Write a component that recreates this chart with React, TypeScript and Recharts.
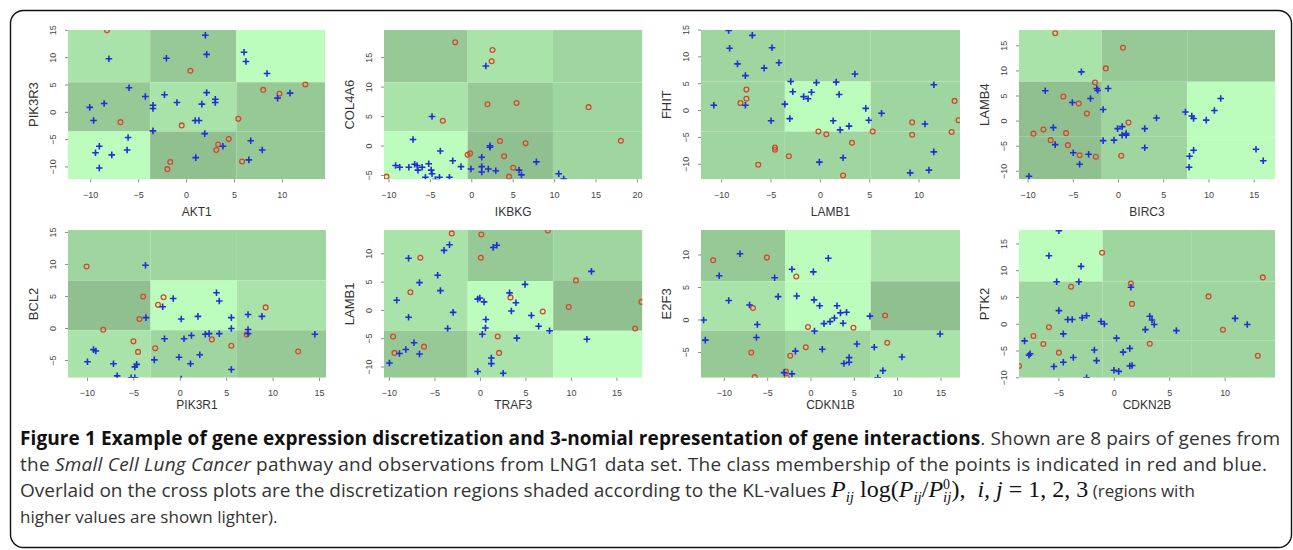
import React from 'react';
import { ScatterChart, Scatter, XAxis, YAxis, ReferenceArea } from 'recharts';

type Pt = [number, number];

// region shades, 0 = lightest (highest KL value)
const SHADES = ['#bcfcbc', '#a9e3a9', '#9fd59f', '#97c997', '#90c090'];

// ---- panel 1: AKT1 vs PIK3R3
const p1XTicks = [-10, -5, 0, 5, 10];
const p1YTicks = [-10, -5, 0, 5, 10, 15];
const p1XCuts = [-3.8, 5.2];
const p1YCuts = [-3.5, 5.5];
const p1Shade = [[1, 3, 0], [3, 1, 3], [0, 4, 3]];
const p1Blue: Pt[] = [[1.96, 14.1], [-8.1, 9.8], [-2.1, 9.9], [2.1, 10.6], [6.0, 11.0], [6.2, 9.3], [8.4, 7.1], [-6.0, 4.5], [-4.3, 2.9], [-2.3, 3.2], [2.1, 3.6], [3.0, 2.4], [3.0, 1.8], [-1.0, 1.8], [-3.5, 1.3], [-3.5, 0.7], [1.6, 1.5], [-8.6, 1.6], [-10.1, 0.9], [-9.7, -1.5], [0.9, -1.5], [1.3, -1.5], [-3.5, -3.4], [1.9, -3.9], [10.8, 3.5], [9.5, 2.6], [-6.1, -4.6], [-9.1, -6.2], [-6.2, -6.9], [-9.5, -7.4], [-7.8, -7.8], [-9.1, -10.2], [0.96, -8.3], [3.8, -6.2], [6.7, -5.2], [7.9, -6.9], [6.5, -8.7]];
const p1Red: Pt[] = [[-8.3, 15.0], [0.4, 7.6], [8.0, 4.1], [9.7, 3.4], [12.4, 5.1], [-6.9, -1.8], [-0.5, -2.4], [5.4, -1.2], [4.4, -4.9], [3.3, -5.9], [3.1, -6.9], [-1.7, -9.1], [-2.0, -10.4], [5.8, -9.0]];

// ---- panel 2: IKBKG vs COL4A6
const p2XTicks = [-10, -5, 0, 5, 10, 15, 20];
const p2YTicks = [-5, 0, 5, 10, 15];
const p2XCuts = [-0.5, 9.8];
const p2YCuts = [2.5, 10.8];
const p2Shade = [[3, 1, 2], [1, 3, 2], [0, 4, 2]];
const p2Blue: Pt[] = [[1.7, 13.6], [-4.8, 5.0], [-7.1, 1.1], [-3.8, -0.85], [2.2, 0.05], [2.2, -0.2], [-2.3, -2.5], [1.2, -1.9], [7.8, -2.7], [-9.2, -3.3], [-8.7, -3.6], [-7.6, -3.6], [-6.9, -3.1], [-6.6, -3.3], [-6.5, -4.1], [-6.0, -3.6], [-5.2, -3.0], [-4.9, -4.1], [-4.8, -4.7], [-5.6, -5.3], [-3.9, -5.3], [-2.7, -5.3], [-1.3, -3.5], [-0.1, -3.9], [1.2, -3.5], [1.2, -4.4], [2.0, -3.9], [2.9, -4.2], [5.7, -4.1], [6.0, -4.9], [10.5, -4.7], [11.1, -5.6], [-4.4, -5.7]];
const p2Red: Pt[] = [[-2.0, 17.6], [2.5, 16.3], [2.4, 14.4], [1.9, 7.1], [5.4, 7.3], [14.1, 6.6], [-3.5, 4.3], [3.4, 0.85], [6.5, 0.45], [18.0, 0.9], [-0.5, -1.5], [-0.2, -1.25], [3.9, -1.75], [5.0, -3.7], [4.5, -5.2], [-10.3, -5.2]];

// ---- panel 3: LAMB1 vs FHIT
const p3XTicks = [-10, -5, 0, 5, 10];
const p3YTicks = [-10, -5, 0, 5, 10, 15];
const p3XCuts = [-3.6, 5.1];
const p3YCuts = [-3.9, 5.4];
const p3Shade = [[2, 2, 2], [2, 0, 2], [2, 2, 2]];
const p3Blue: Pt[] = [[-9.3, 14.9], [-6.9, 14.0], [-9.2, 11.6], [-4.9, 11.7], [-8.4, 8.7], [-4.2, 8.9], [-5.7, 7.9], [-7.6, 6.5], [3.5, 6.8], [-3.0, 5.4], [-0.4, 5.2], [1.6, 5.3], [-2.8, 3.5], [-0.9, 3.4], [-1.7, 2.6], [-1.25, 2.2], [1.9, 3.0], [-3.6, 1.2], [-7.6, 1.0], [-10.8, 1.0], [4.6, 0.4], [6.2, -0.5], [-3.1, -1.5], [-5.0, -1.9], [1.3, -1.9], [4.9, -1.8], [2.9, -2.9], [2.0, -3.6], [11.5, 4.8], [10.6, -2.5], [11.5, -7.7], [-0.1, -9.6], [2.3, -8.8], [11.0, -11.1], [9.1, -11.6]];
const p3Red: Pt[] = [[-7.5, 3.9], [-7.5, 2.2], [-8.1, 1.4], [-0.2, -3.9], [0.6, -4.4], [5.3, -3.9], [3.2, -6.0], [-4.6, -6.9], [-4.6, -7.3], [-3.2, -8.5], [-6.3, -10.1], [2.3, -12.1], [9.3, -2.2], [9.3, -4.5], [13.6, 1.8], [14.0, -1.8], [13.3, -4.0]];

// ---- panel 4: BIRC3 vs LAMB4
const p4XTicks = [-10, -5, 0, 5, 10, 15];
const p4YTicks = [-10, -5, 0, 5, 10, 15];
const p4XCuts = [-1.85, 7.6];
const p4YCuts = [-3.0, 7.85];
const p4Shade = [[1, 3, 3], [4, 2, 0], [4, 2, 0]];
const p4Blue: Pt[] = [[-4.1, 9.8], [-8.1, 6.05], [-2.4, 6.5], [-2.3, 6.1], [-1.15, 6.5], [-5.1, 3.7], [-3.1, 4.5], [-1.7, 2.3], [11.3, 4.5], [10.6, 2.1], [7.4, 1.8], [8.1, 1.0], [8.3, 0.5], [9.7, 0.2], [4.2, 0.6], [-7.2, -1.3], [-0.1, -1.5], [0.4, -1.1], [2.9, -1.5], [0.4, -2.8], [0.85, -2.8], [0.85, -2.5], [-7.0, -4.7], [-1.7, -3.9], [-0.5, -3.8], [2.9, -5.3], [-5.0, -6.3], [-3.3, -6.6], [-4.3, -8.6], [8.3, -5.8], [7.85, -7.0], [7.8, -9.2], [15.2, -5.6], [16.0, -7.9], [-9.9, -11.0]];
const p4Red: Pt[] = [[-7.0, 17.5], [0.5, 14.6], [-1.4, 10.5], [-2.6, 7.7], [-6.1, 4.9], [-4.4, 3.5], [-3.5, 1.5], [1.1, -0.3], [-9.4, -2.5], [-8.3, -1.7], [-7.5, -3.8], [-5.8, -2.4], [-5.6, -4.8], [-4.3, -6.8], [-2.5, -7.1], [0.3, -6.9]];

// ---- panel 5: PIK3R1 vs BCL2
const p5XTicks = [-10, -5, 0, 5, 10, 15];
const p5YTicks = [-5, 0, 5, 10, 15];
const p5XCuts = [-3.2, 6.1];
const p5YCuts = [-0.25, 7.5];
const p5Shade = [[2, 2, 2], [4, 0, 1], [1, 2, 3]];
const p5Blue: Pt[] = [[-3.75, 9.9], [3.9, 5.6], [4.2, 4.3], [-0.76, 4.7], [-1.9, 3.4], [-3.7, 1.7], [0.1, 1.5], [1.9, 1.9], [5.5, 1.7], [7.3, 2.2], [8.8, 1.9], [5.5, 0.0], [7.3, -0.15], [7.3, -0.8], [14.5, -0.9], [-1.7, -1.6], [0.4, -1.6], [1.2, -1.1], [2.7, -0.9], [3.1, -0.8], [4.2, -0.8], [-9.35, -3.3], [-9.1, -3.5], [-10.0, -5.2], [-7.2, -5.5], [-6.8, -7.4], [-4.7, -5.6], [-4.9, -6.0], [-4.9, -7.7], [-5.3, -7.7], [-2.8, -4.9], [-0.14, -4.5], [1.1, -5.5], [2.1, -4.1], [5.5, -6.4], [0.1, -7.9]];
const p5Red: Pt[] = [[-10.1, 9.7], [-4.0, 5.0], [-1.8, 4.9], [-2.4, 3.7], [-4.4, 1.5], [-8.3, -0.2], [-5.05, -2.0], [-4.55, -3.65], [-2.7, -3.1], [3.4, -1.7], [5.5, -2.7], [7.15, -0.95], [9.2, 3.3], [12.7, -3.6]];

// ---- panel 6: TRAF3 vs LAMB1
const p6XTicks = [-10, -5, 0, 5, 10, 15];
const p6YTicks = [-10, -5, 0, 5, 10];
const p6XCuts = [-1.4, 8.0];
const p6YCuts = [-3.6, 5.2];
const p6Shade = [[1, 3, 2], [1, 0, 4], [3, 1, 0]];
const p6Blue: Pt[] = [[-3.4, 11.6], [-4.0, 10.6], [-7.9, 9.2], [1.4, 11.1], [1.8, 11.5], [-4.7, 6.2], [-6.7, 4.9], [-4.4, 3.5], [-9.2, 1.8], [-3.0, -0.35], [-7.9, -1.2], [-3.6, -3.2], [4.9, 4.6], [3.2, 3.1], [3.9, 1.35], [-0.3, 2.0], [-0.07, 2.2], [0.4, 1.5], [3.4, -0.1], [5.6, -0.9], [0.6, -1.6], [0.55, -3.1], [0.2, -4.2], [6.4, -2.8], [7.6, -3.6], [4.0, -4.9], [12.2, 6.9], [11.7, -5.1], [-7.3, -5.7], [-8.2, -6.9], [-8.9, -7.6], [-6.7, -7.7], [-10.0, -9.3], [1.2, -8.4], [1.2, -9.4], [-0.3, -10.8], [2.5, -11.1]];
const p6Red: Pt[] = [[-3.15, 13.6], [0.1, 13.4], [7.4, 14.1], [0.04, 9.3], [-6.6, 9.3], [-7.7, 3.2], [3.3, 2.3], [6.85, -0.2], [10.5, 5.3], [9.7, 0.6], [17.7, 1.5], [17.0, -3.2], [-9.6, -4.6], [-9.45, -7.5], [-6.2, -6.4], [1.9, -4.6], [2.05, -7.5]];

// ---- panel 7: CDKN1B vs E2F3
const p7XTicks = [-10, -5, 0, 5, 10, 15];
const p7YTicks = [-5, 0, 5, 10];
const p7XCuts = [-3.0, 6.9];
const p7YCuts = [-1.65, 5.95];
const p7Shade = [[3, 0, 1], [1, 0, 4], [3, 2, 1]];
const p7Blue: Pt[] = [[-8.2, 10.2], [2.0, 9.5], [-10.6, 6.8], [-4.2, 6.5], [-2.2, 7.8], [0.27, 7.4], [-9.5, 3.0], [-7.1, 2.3], [-3.8, 3.6], [-1.65, 3.7], [0.35, 3.1], [1.0, 2.2], [3.0, 2.2], [3.4, 1.1], [4.1, 1.2], [2.7, 0.3], [2.2, -0.26], [1.5, -0.56], [3.7, -0.5], [6.8, 0.6], [-12.4, 0.0], [-6.2, -0.7], [-12.2, -3.1], [-6.3, -2.7], [0.4, -1.7], [14.9, -2.15], [5.3, -3.7], [7.3, -4.2], [1.3, -4.5], [-1.8, -4.8], [4.4, -5.8], [4.4, -6.5], [3.8, -6.7], [10.5, -5.7], [8.3, -7.8], [-3.1, -8.1], [-2.2, -8.3], [7.7, -8.9]];
const p7Red: Pt[] = [[-11.3, 9.2], [-5.1, 9.6], [-1.7, 6.7], [-6.7, 1.85], [-0.35, -1.1], [4.9, -1.2], [8.55, 0.7], [8.8, -3.5], [-6.9, -5.0], [-0.6, -4.2], [-2.4, -5.5], [-2.9, -7.95], [-6.5, -8.8], [-2.8, -8.9]];

// ---- panel 8: CDKN2B vs PTK2
const p8XTicks = [-5, 0, 5, 10];
const p8YTicks = [-10, -5, 0, 5, 10, 15];
const p8XCuts = [-1.05, 7.0];
const p8YCuts = [-3.0, 8.0];
const p8Shade = [[0, 2, 2], [2, 2, 2], [2, 2, 2]];
const p8Blue: Pt[] = [[-5.0, 17.45], [-5.9, 12.8], [-3.0, 10.8], [-5.2, 7.95], [-3.2, 7.95], [1.5, 6.9], [-5.0, 2.55], [-4.2, 0.9], [-3.8, 0.9], [-2.9, 1.2], [-2.5, 1.6], [-1.2, 0.5], [-0.9, 0.06], [3.2, 1.5], [3.4, 0.8], [3.6, -0.06], [2.8, -1.0], [5.6, -1.2], [10.9, 1.1], [12.0, -0.06], [-4.6, -1.8], [-8.1, -3.1], [-7.6, -5.5], [-7.7, -5.8], [-1.8, -4.8], [0.2, -2.6], [-3.7, -6.2], [-4.6, -7.1], [-5.45, -7.9], [-1.6, -6.8], [0.8, -5.2], [1.4, -4.5], [1.4, -7.8], [1.6, -7.7], [-0.03, -8.6], [0.4, -8.8], [-2.5, -10.0]];
const p8Red: Pt[] = [[-1.1, 13.35], [-3.9, 7.0], [1.5, 7.6], [1.6, 3.8], [13.4, 8.75], [8.5, 5.2], [9.8, -1.05], [-5.9, -0.55], [-7.3, -2.2], [-6.4, -3.7], [-5.0, -5.3], [3.2, -3.65], [12.95, -5.9], [-8.6, -7.8]];

interface PanelDef {
  xName: string;
  yName: string;
  box: [number, number, number, number]; // left, top, right, bottom on the page
  xDomain: [number, number];
  yDomain: [number, number];
  xTicks: number[];
  yTicks: number[];
  xCuts: number[];
  yCuts: number[];
  shade: number[][];
  red: Pt[];
  blue: Pt[];
  titleGap: number;
}

const TOP = [30, 179.3] as const;
const BOT = [229.5, 377.3] as const;

const panels: PanelDef[] = [
  { xName: 'AKT1', yName: 'PIK3R3', box: [68.3, TOP[0], 325.7, TOP[1]], xDomain: [-12.37, 14.49], yDomain: [-12.26, 15.06], xTicks: p1XTicks, yTicks: p1YTicks, xCuts: p1XCuts, yCuts: p1YCuts, shade: p1Shade, red: p1Red, blue: p1Blue, titleGap: 36.7 },
  { xName: 'IKBKG', yName: 'COL4A6', box: [384.3, TOP[0], 642.7, TOP[1]], xDomain: [-10.6, 20.6], yDomain: [-5.65, 19.7], xTicks: p2XTicks, yTicks: p2YTicks, xCuts: p2XCuts, yCuts: p2YCuts, shade: p2Shade, red: p2Red, blue: p2Blue, titleGap: 36.7 },
  { xName: 'LAMB1', yName: 'FHIT', box: [701, TOP[0], 960, TOP[1]], xDomain: [-12.1, 14.15], yDomain: [-12.8, 15.0], xTicks: p3XTicks, yTicks: p3YTicks, xCuts: p3XCuts, yCuts: p3YCuts, shade: p3Shade, red: p3Red, blue: p3Blue, titleGap: 36.7 },
  { xName: 'BIRC3', yName: 'LAMB4', box: [1019, TOP[0], 1275, TOP[1]], xDomain: [-11.0, 17.3], yDomain: [-11.6, 18.15], xTicks: p4XTicks, yTicks: p4YTicks, xCuts: p4XCuts, yCuts: p4YCuts, shade: p4Shade, red: p4Red, blue: p4Blue, titleGap: 36.7 },
  { xName: 'PIK3R1', yName: 'BCL2', box: [67.7, BOT[0], 325.7, BOT[1]], xDomain: [-12.1, 15.7], yDomain: [-7.7, 15.4], xTicks: p5XTicks, yTicks: p5YTicks, xCuts: p5XCuts, yCuts: p5YCuts, shade: p5Shade, red: p5Red, blue: p5Blue, titleGap: 31 },
  { xName: 'TRAF3', yName: 'LAMB1', box: [384.3, BOT[0], 642.7, BOT[1]], xDomain: [-10.6, 17.8], yDomain: [-11.9, 14.2], xTicks: p6XTicks, yTicks: p6YTicks, xCuts: p6XCuts, yCuts: p6YCuts, shade: p6Shade, red: p6Red, blue: p6Blue, titleGap: 31 },
  { xName: 'CDKN1B', yName: 'E2F3', box: [701, BOT[0], 960, BOT[1]], xDomain: [-12.7, 17.2], yDomain: [-8.9, 13.85], xTicks: p7XTicks, yTicks: p7YTicks, xCuts: p7XCuts, yCuts: p7YCuts, shade: p7Shade, red: p7Red, blue: p7Blue, titleGap: 31 },
  { xName: 'CDKN2B', yName: 'PTK2', box: [1019, BOT[0], 1275, BOT[1]], xDomain: [-8.6, 14.5], yDomain: [-10.0, 17.6], xTicks: p8XTicks, yTicks: p8YTicks, xCuts: p8XCuts, yCuts: p8YCuts, shade: p8Shade, red: p8Red, blue: p8Blue, titleGap: 31 },
];

const AXIS_FONT = "'Liberation Sans', Arial, sans-serif";
const fmt = (v: number) => (v < 0 ? '\u2212' + Math.abs(v) : String(v));

const XTick = (p: any) => (
  <text x={p.x} y={p.y + 15.7} textAnchor="middle" fontSize={9} fontFamily={AXIS_FONT} fill="#444">
    {fmt(p.payload.value)}
  </text>
);

const YTick = (p: any) => {
  const x = p.x - 8.8;
  return (
    <text x={x} y={p.y} transform={`rotate(-90 ${x} ${p.y})`} textAnchor="middle" fontSize={9} fontFamily={AXIS_FONT} fill="#444">
      {fmt(p.payload.value)}
    </text>
  );
};

const RedRing = (p: any) => (
  <circle cx={p.cx} cy={p.cy} r={2.4} fill="none" stroke="#d24a2e" strokeWidth={1.3} />
);

const BluePlus = (p: any) => (
  <path d={`M${p.cx - 3.3},${p.cy}h6.6M${p.cx},${p.cy - 3.3}v6.6`} stroke="#1f2fd6" strokeWidth={1.6} />
);

function Panel({ d }: { d: PanelDef }) {
  const [left, top, right, bottom] = d.box;
  const w = right - left;
  const h = bottom - top;
  const xs = [d.xDomain[0], d.xCuts[0], d.xCuts[1], d.xDomain[1]];
  const ys = [d.yDomain[1], d.yCuts[1], d.yCuts[0], d.yDomain[0]]; // top to bottom
  const cells = [];
  for (let r = 0; r < 3; r++) {
    for (let c = 0; c < 3; c++) {
      cells.push(
        <ReferenceArea
          key={`${r}-${c}`}
          x1={xs[c]}
          x2={xs[c + 1]}
          y1={ys[r + 1]}
          y2={ys[r]}
          fill={SHADES[d.shade[r][c]]}
          fillOpacity={1}
          stroke="none"
          ifOverflow="hidden"
        />
      );
    }
  }
  const red = d.red.map(([x, y]) => ({ x, y }));
  const blue = d.blue.map(([x, y]) => ({ x, y }));

  return (
    <div style={{ position: 'absolute', left: left - 50, top: top - 5 }}>
      <ScatterChart width={w + 55} height={h + 50} margin={{ top: 5, right: 5, bottom: 0, left: 0 }}>
        <XAxis
          type="number"
          dataKey="x"
          domain={d.xDomain}
          ticks={d.xTicks}
          interval={0}
          allowDataOverflow
          height={45}
          axisLine={false}
          tickLine={{ stroke: '#8a8a8a' }}
          tickSize={3}
          tickMargin={0}
          tick={XTick}
          label={{
            content: (p: any) => (
              <text x={p.viewBox.x + p.viewBox.width / 2} y={p.viewBox.y + d.titleGap} textAnchor="middle" fontSize={12} fontFamily={AXIS_FONT} fill="#333">
                {d.xName}
              </text>
            ),
          }}
        />
        <YAxis
          type="number"
          dataKey="y"
          domain={d.yDomain}
          ticks={d.yTicks}
          interval={0}
          allowDataOverflow
          width={50}
          axisLine={false}
          tickLine={{ stroke: '#8a8a8a' }}
          tickSize={3}
          tickMargin={0}
          tick={YTick}
          label={{
            content: (p: any) => {
              const x = p.viewBox.x + p.viewBox.width - 30.3;
              const y = p.viewBox.y + p.viewBox.height / 2;
              return (
                <text x={x} y={y} transform={`rotate(-90 ${x} ${y})`} textAnchor="middle" fontSize={13} fontFamily={AXIS_FONT} fill="#333">
                  {d.yName}
                </text>
              );
            },
          }}
        />
        {cells}
        <Scatter data={red} shape={RedRing} isAnimationActive={false} />
        <Scatter data={blue} shape={BluePlus} isAnimationActive={false} />
      </ScatterChart>
    </div>
  );
}

const SERIF = "'Liberation Serif', 'DejaVu Serif', serif";
const M = { fontFamily: SERIF, fill: '#111' };

export default function App() {
  return (
    <div style={{ position: 'absolute', left: 0, top: 0, width: 1293, height: 550, background: '#fff', overflow: 'hidden' }}>
      {panels.map((d) => (
        <Panel key={d.xName + d.yName} d={d} />
      ))}
      <svg width={1293} height={550} style={{ position: 'absolute', left: 0, top: 0, pointerEvents: 'none' }}>
        <rect x={10.5} y={10.5} width={1281} height={537} rx={13} fill="none" stroke="#111" strokeWidth={1.4} />
        <g fontFamily="'Open Sans', sans-serif" fontSize={19} fill="#333">
          <text x={20} y={445} textLength={1260} lengthAdjust="spacing">
            <tspan fontWeight={700} fill="#111">
              Figure 1 Example of gene expression discretization and 3-nomial representation of gene interactions
            </tspan>
            <tspan>. Shown are 8 pairs of genes from</tspan>
          </text>
          <text x={20} y={471} textLength={1247} lengthAdjust="spacing">
            <tspan>{'the '}</tspan>
            <tspan fontStyle="italic">Small Cell Lung Cancer</tspan>
            <tspan>{' pathway and observations from LNG1 data set. The class membership of the points is indicated in red and blue.'}</tspan>
          </text>
          <text x={20} y={497}>
            <tspan>{'Overlaid on the cross plots are the discretization regions shaded according to the KL-values '}</tspan>
            <tspan {...M} fontSize={24} fontStyle="italic">P</tspan>
            <tspan {...M} fontSize={15} fontStyle="italic" dy={5}>ij</tspan>
            <tspan {...M} fontSize={24} dy={-5}>{' log('}</tspan>
            <tspan {...M} fontSize={24} fontStyle="italic">P</tspan>
            <tspan {...M} fontSize={15} fontStyle="italic" dy={5}>ij</tspan>
            <tspan {...M} fontSize={24} dy={-5}>/</tspan>
            <tspan {...M} fontSize={24} fontStyle="italic">P</tspan>
            <tspan {...M} fontSize={14} dy={-8}>0</tspan>
            <tspan {...M} fontSize={15} fontStyle="italic" dx={-7} dy={13}>ij</tspan>
            <tspan {...M} fontSize={24} dy={-5}>{'),\u00a0\u00a0'}</tspan>
            <tspan {...M} fontSize={24} fontStyle="italic">i, j</tspan>
            <tspan {...M} fontSize={24}>{' = 1, 2, 3'}</tspan>
            <tspan fontSize={17}>{' (regions with'}</tspan>
          </text>
          <text x={20} y={523} fontSize={17}>higher values are shown lighter).</text>
        </g>
      </svg>
    </div>
  );
}
